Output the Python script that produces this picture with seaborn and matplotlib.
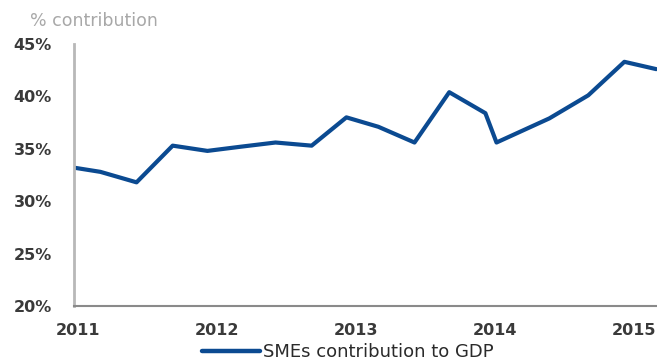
import matplotlib
matplotlib.use("Agg")
import matplotlib.pyplot as plt
import matplotlib.transforms as mtransforms
import seaborn as sns
import pandas as pd
from matplotlib.ticker import FuncFormatter
from matplotlib.lines import Line2D

# Data (decimal year, % contribution)
dates = [2011.00, 2011.19, 2011.45, 2011.71, 2011.96, 2012.20, 2012.45, 2012.71,
         2012.96, 2013.19, 2013.45, 2013.70, 2013.96, 2014.04, 2014.42, 2014.70,
         2014.96, 2015.19]
values = [33.2, 32.8, 31.8, 35.3, 34.8, 35.2, 35.6, 35.3,
          38.0, 37.1, 35.6, 40.4, 38.4, 35.6, 37.9, 40.1,
          43.3, 42.6]
series_name = "SMEs contribution to GDP"
year_ticks = [2011, 2012, 2013, 2014, 2015]
y_ticks = [20, 25, 30, 35, 40, 45]

df = pd.DataFrame({"date": dates, "value": values, "series": series_name})

sns.set_style("white")
plt.rcParams['font.family'] = ['DejaVu Sans']

fig = plt.figure(figsize=(6.57, 3.63), dpi=100)
ax = fig.add_axes([74/657, 57/363, 0.935, (306-44)/363])

sns.lineplot(data=df, x="date", y="value", hue="series", palette=["#0b4a91"],
             linewidth=3.0, ax=ax, legend=False, sort=False)

ax.set_xlim(2011, 2015.42)
ax.set_ylim(20, 45)
ax.set_xticks(year_ticks)
ax.set_xticklabels([str(y) for y in year_ticks])
ax.set_yticks(y_ticks)
ax.yaxis.set_major_formatter(FuncFormatter(lambda v, p: f"{int(v)}%"))
ax.set_xlabel("")
ax.set_ylabel("")

for s in ["top", "right"]:
    ax.spines[s].set_visible(False)
ax.spines["left"].set_color("#b8b8b8")
ax.spines["left"].set_linewidth(2.0)
ax.spines["bottom"].set_color("#8a8a8a")
ax.spines["bottom"].set_linewidth(1.5)

ax.tick_params(axis="both", length=0, labelsize=11.5, labelcolor="#3a3a3a")
ax.tick_params(axis="y", pad=16)
ax.tick_params(axis="x", pad=12)
offset = mtransforms.ScaledTranslation(4/100, 0, fig.dpi_scale_trans)
for lbl in ax.get_xticklabels():
    lbl.set_transform(lbl.get_transform() + offset)
for lbl in ax.get_xticklabels() + ax.get_yticklabels():
    lbl.set_fontweight("semibold")

fig.text(30/657, 1 - 21/363, "% contribution", color="#a8a8a8", fontsize=12.5,
         ha="left", va="center")

h = Line2D([0], [0], color="#0b4a91", linewidth=3.2)
fig.legend([h], [series_name], loc="center", bbox_to_anchor=(348/657, 1 - 352/363),
           frameon=False, fontsize=13, handlelength=3.2, handletextpad=0.15,
           labelcolor="#2a2a2a", borderpad=0.1)

fig.savefig("out.png", dpi=100)
